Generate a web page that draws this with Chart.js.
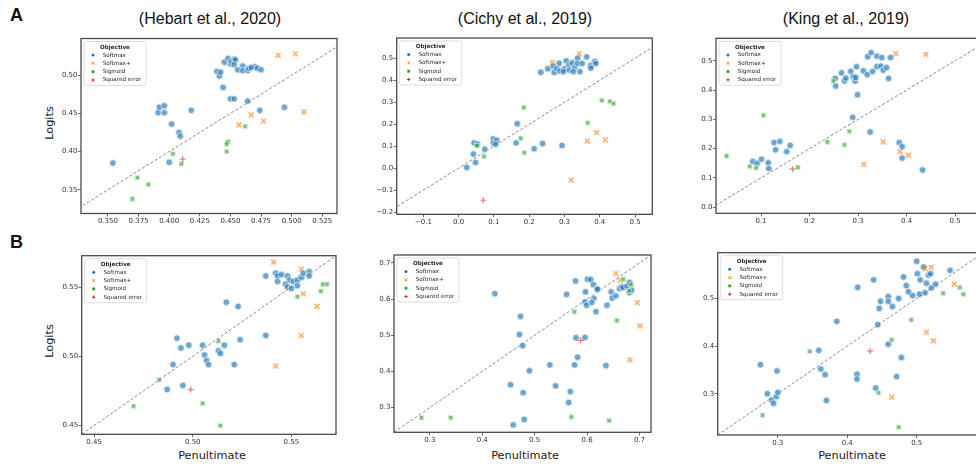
<!DOCTYPE html>
<html>
<head>
<meta charset="utf-8">
<script src="https://cdn.jsdelivr.net/npm/chart.js@4.4.0/dist/chart.umd.min.js"></script>
<style>
  body { margin: 0; width: 976px; height: 466px; overflow: hidden; background: #fff; position: relative; }
  canvas { position: absolute; }
  .txt { position: absolute; line-height: 1; white-space: nowrap; color: #111; }
  .letter { font: bold 18px "Liberation Sans", Arial, sans-serif; transform: translate(0, -50%); }
  .ptitle { font: 16px "Liberation Sans", Arial, sans-serif; transform: translate(-50%, -50%); }
  .ylab { font: 11.3px "DejaVu Sans", sans-serif; color: #222; transform: translate(-50%, -50%) rotate(-90deg); }
  .xlab { font: 11.3px "DejaVu Sans", sans-serif; color: #222; transform: translate(-50%, -50%); }
</style>
</head>
<body>
<div class="txt letter" style="left:10px;top:14.5px">A</div>
<div class="txt letter" style="left:10px;top:242px">B</div>
<div class="txt ptitle" style="left:210px;top:19px">(Hebart et al., 2020)</div>
<div class="txt ptitle" style="left:525px;top:19px">(Cichy et al., 2019)</div>
<div class="txt ptitle" style="left:846px;top:19px">(King et al., 2019)</div>
<div class="txt ylab" style="left:48.5px;top:123px">Logits</div>
<div class="txt ylab" style="left:48.5px;top:341px">Logits</div>
<div class="txt xlab" style="left:212px;top:455px">Penultimate</div>
<div class="txt xlab" style="left:525px;top:455px">Penultimate</div>
<div class="txt xlab" style="left:852px;top:455px">Penultimate</div>

<script>
// legend entries, same order as the series in each panel
const objectives = ["Softmax", "Softmax+", "Sigmoid", "Squared error"];

// ---- row A, Hebart et al. 2020 ----
const aHebartSoftmax = [
  [0.354, 0.385], [0.391, 0.451], [0.392, 0.458], [0.396, 0.460], [0.396, 0.451],
  [0.402, 0.436], [0.408, 0.425], [0.409, 0.420], [0.400, 0.386], [0.418, 0.454],
  [0.444, 0.484], [0.439, 0.505], [0.441, 0.499], [0.442, 0.504], [0.445, 0.517],
  [0.448, 0.522], [0.450, 0.515], [0.451, 0.518], [0.453, 0.521], [0.454, 0.520],
  [0.450, 0.469], [0.453, 0.469], [0.456, 0.507], [0.460, 0.512], [0.460, 0.506],
  [0.464, 0.506], [0.465, 0.509], [0.464, 0.466], [0.470, 0.511], [0.472, 0.509],
  [0.475, 0.507], [0.474, 0.454], [0.494, 0.458], [0.453, 0.514], [0.467, 0.510]
];
const aHebartSoftmaxPlus = [[0.489, 0.526], [0.503, 0.528], [0.510, 0.452], [0.467, 0.448], [0.477, 0.440], [0.457, 0.435]];
const aHebartSigmoid = [
  [0.462, 0.433], [0.448, 0.413], [0.447, 0.410], [0.447, 0.400], [0.403, 0.397],
  [0.410, 0.384], [0.374, 0.366], [0.383, 0.357], [0.370, 0.338]
];
const aHebartSquared = [[0.411, 0.390]];
const aHebartXTicks = [0.350, 0.375, 0.400, 0.425, 0.450, 0.475, 0.500, 0.525];
const aHebartYTicks = [0.35, 0.40, 0.45, 0.50];

// ---- row A, Cichy et al. 2019 ----
const aCichySoftmax = [
  [0.233, 0.436], [0.253, 0.452], [0.268, 0.464], [0.271, 0.436], [0.278, 0.453],
  [0.285, 0.477], [0.287, 0.442], [0.300, 0.452], [0.305, 0.488], [0.313, 0.470],
  [0.314, 0.446], [0.322, 0.479], [0.329, 0.458], [0.337, 0.500], [0.337, 0.476],
  [0.350, 0.476], [0.344, 0.439], [0.363, 0.506], [0.374, 0.467], [0.375, 0.455],
  [0.386, 0.485], [0.389, 0.476], [0.325, 0.439], [0.297, 0.439],
  [0.023, 0.003], [0.042, 0.064], [0.044, 0.115], [0.048, 0.026], [0.053, 0.109],
  [0.074, 0.086], [0.098, 0.133], [0.098, 0.115], [0.108, 0.127], [0.105, 0.109],
  [0.163, 0.115], [0.166, 0.202], [0.214, 0.088], [0.238, 0.112], [0.293, 0.103]
];
const aCichySoftmaxPlus = [[0.266, 0.480], [0.342, 0.520], [0.365, 0.123], [0.391, 0.162], [0.416, 0.129], [0.319, -0.055]];
const aCichySigmoid = [
  [0.052, 0.102], [0.072, 0.053], [0.176, 0.136], [0.185, 0.276], [0.186, 0.070],
  [0.366, 0.206], [0.406, 0.308], [0.429, 0.303], [0.439, 0.294]
];
const aCichySquared = [[0.070, -0.146]];
const aCichyXTicks = [-0.1, 0.0, 0.1, 0.2, 0.3, 0.4, 0.5];
const aCichyYTicks = [-0.2, -0.1, 0.0, 0.1, 0.2, 0.3, 0.4, 0.5];

// ---- row A, King et al. 2019 ----
const aKingSoftmax = [
  [0.253, 0.440], [0.254, 0.414], [0.266, 0.459], [0.272, 0.431], [0.275, 0.441],
  [0.285, 0.464], [0.290, 0.446], [0.294, 0.431], [0.295, 0.443], [0.297, 0.480],
  [0.299, 0.384], [0.311, 0.466], [0.319, 0.453], [0.320, 0.514], [0.327, 0.528],
  [0.330, 0.464], [0.339, 0.480], [0.339, 0.516], [0.347, 0.482], [0.349, 0.511],
  [0.352, 0.468], [0.359, 0.477], [0.363, 0.440], [0.367, 0.511], [0.289, 0.307],
  [0.325, 0.257], [0.083, 0.156], [0.092, 0.150], [0.101, 0.164], [0.115, 0.152],
  [0.116, 0.132], [0.127, 0.221], [0.130, 0.196], [0.139, 0.225], [0.153, 0.190],
  [0.160, 0.211], [0.385, 0.221], [0.391, 0.207], [0.391, 0.168], [0.433, 0.127]
];
const aKingSoftmaxPlus = [[0.378, 0.525], [0.440, 0.522], [0.352, 0.223], [0.312, 0.146], [0.387, 0.190], [0.404, 0.178]];
const aKingSigmoid = [
  [0.029, 0.175], [0.077, 0.139], [0.090, 0.134], [0.105, 0.314], [0.176, 0.136],
  [0.237, 0.223], [0.272, 0.213], [0.282, 0.259], [0.249, 0.431]
];
const aKingSquared = [[0.165, 0.130]];
const aKingXTicks = [0.1, 0.2, 0.3, 0.4, 0.5];
const aKingYTicks = [0.0, 0.1, 0.2, 0.3, 0.4, 0.5];

// ---- row B, Hebart et al. 2020 ----
const bHebartSoftmax = [
  [0.537, 0.558], [0.542, 0.560], [0.543, 0.558], [0.545, 0.559], [0.543, 0.554],
  [0.548, 0.558], [0.549, 0.555], [0.551, 0.554], [0.553, 0.555], [0.547, 0.552],
  [0.548, 0.550], [0.550, 0.549], [0.553, 0.551], [0.555, 0.557], [0.556, 0.560],
  [0.559, 0.561], [0.559, 0.558],
  [0.487, 0.476], [0.490, 0.494], [0.492, 0.513], [0.494, 0.506], [0.495, 0.479],
  [0.498, 0.508], [0.505, 0.508], [0.506, 0.501], [0.507, 0.497], [0.508, 0.494],
  [0.513, 0.504], [0.514, 0.502], [0.516, 0.508], [0.517, 0.539], [0.521, 0.494],
  [0.523, 0.536], [0.524, 0.512], [0.537, 0.515]
];
const bHebartSoftmaxPlus = [[0.541, 0.568], [0.555, 0.563], [0.556, 0.545], [0.563, 0.536], [0.555, 0.515], [0.542, 0.493]];
const bHebartSigmoid = [
  [0.553, 0.543], [0.565, 0.547], [0.566, 0.552], [0.568, 0.552], [0.513, 0.511],
  [0.483, 0.483], [0.470, 0.464], [0.505, 0.466], [0.514, 0.450]
];
const bHebartSquared = [[0.499, 0.476]];
const bHebartXTicks = [0.45, 0.50, 0.55];
const bHebartYTicks = [0.45, 0.50, 0.55];

// ---- row B, Cichy et al. 2019 ----
const bCichySoftmax = [
  [0.424, 0.615], [0.454, 0.363], [0.473, 0.552], [0.471, 0.502], [0.477, 0.471],
  [0.478, 0.341], [0.480, 0.267], [0.459, 0.252], [0.490, 0.402], [0.529, 0.418],
  [0.540, 0.360], [0.561, 0.613], [0.568, 0.344], [0.565, 0.314], [0.576, 0.418],
  [0.579, 0.493], [0.582, 0.439], [0.578, 0.650], [0.596, 0.494], [0.596, 0.592],
  [0.597, 0.620], [0.599, 0.583], [0.601, 0.655], [0.607, 0.654], [0.612, 0.640],
  [0.613, 0.602], [0.609, 0.591], [0.617, 0.565], [0.619, 0.629], [0.620, 0.627],
  [0.638, 0.583], [0.636, 0.416], [0.646, 0.620], [0.648, 0.603], [0.655, 0.609],
  [0.662, 0.629], [0.666, 0.634], [0.669, 0.632], [0.676, 0.636], [0.681, 0.646],
  [0.681, 0.618], [0.685, 0.625]
];
const bCichySoftmaxPlus = [[0.655, 0.671], [0.663, 0.652], [0.696, 0.590], [0.701, 0.526], [0.682, 0.432]];
const bCichySigmoid = [
  [0.669, 0.655], [0.684, 0.640], [0.680, 0.623], [0.576, 0.565], [0.657, 0.541],
  [0.284, 0.272], [0.340, 0.272], [0.570, 0.274], [0.642, 0.264]
];
const bCichySquared = [[0.588, 0.486]];
const bCichyXTicks = [0.3, 0.4, 0.5, 0.6, 0.7];
const bCichyYTicks = [0.3, 0.4, 0.5, 0.6, 0.7];

// ---- row B, King et al. 2019 ----
const bKingSoftmax = [
  [0.275, 0.361], [0.285, 0.300], [0.291, 0.287], [0.294, 0.280], [0.298, 0.294],
  [0.300, 0.303], [0.299, 0.348], [0.359, 0.391], [0.362, 0.352], [0.368, 0.340],
  [0.370, 0.286], [0.385, 0.452], [0.414, 0.341], [0.414, 0.331], [0.415, 0.523],
  [0.438, 0.539], [0.441, 0.312], [0.444, 0.445], [0.446, 0.479], [0.448, 0.494],
  [0.459, 0.504], [0.459, 0.494], [0.459, 0.404], [0.465, 0.483], [0.474, 0.500],
  [0.478, 0.376], [0.471, 0.336], [0.481, 0.545], [0.485, 0.527], [0.488, 0.514],
  [0.494, 0.506], [0.500, 0.578], [0.501, 0.552], [0.504, 0.509], [0.505, 0.539],
  [0.510, 0.566], [0.512, 0.512], [0.514, 0.532], [0.517, 0.549], [0.520, 0.552],
  [0.521, 0.522], [0.527, 0.530], [0.548, 0.559]
];
const bKingSoftmaxPlus = [[0.512, 0.562], [0.521, 0.565], [0.554, 0.530], [0.514, 0.429], [0.524, 0.411], [0.464, 0.293]];
const bKingSigmoid = [
  [0.278, 0.255], [0.346, 0.389], [0.464, 0.413], [0.492, 0.455], [0.445, 0.302],
  [0.474, 0.230], [0.538, 0.511], [0.562, 0.523], [0.567, 0.509]
];
const bKingSquared = [[0.433, 0.390]];
const bKingXTicks = [0.3, 0.4, 0.5];
const bKingYTicks = [0.3, 0.4, 0.5];

// where each axes box sits on the page (left, top, right, bottom) and its limits
const panels = [
  { box: [81, 38.5, 337, 213.5], xLim: [0.328, 0.537], yLim: [0.319, 0.548],
    xTicks: aHebartXTicks, yTicks: aHebartYTicks, xDec: 3, yDec: 2,
    series: [aHebartSoftmax, aHebartSoftmaxPlus, aHebartSigmoid, aHebartSquared] },
  { box: [396.7, 38, 652.3, 214.3], xLim: [-0.1756, 0.549], yLim: [-0.21, 0.592],
    xTicks: aCichyXTicks, yTicks: aCichyYTicks, xDec: 1, yDec: 1,
    series: [aCichySoftmax, aCichySoftmaxPlus, aCichySigmoid, aCichySquared] },
  { box: [716, 38.3, 980, 213.3], xLim: [0.0072, 0.5515], yLim: [-0.0207, 0.577],
    xTicks: aKingXTicks, yTicks: aKingYTicks, xDec: 1, yDec: 1,
    series: [aKingSoftmax, aKingSoftmaxPlus, aKingSigmoid, aKingSquared] },
  { box: [81.7, 255.7, 336, 434.3], xLim: [0.4437, 0.5726], yLim: [0.4437, 0.5726],
    xTicks: bHebartXTicks, yTicks: bHebartYTicks, xDec: 2, yDec: 2,
    series: [bHebartSoftmax, bHebartSoftmaxPlus, bHebartSigmoid, bHebartSquared] },
  { box: [394, 255, 651, 432.3], xLim: [0.2316, 0.722], yLim: [0.2316, 0.722],
    xTicks: bCichyXTicks, yTicks: bCichyYTicks, xDec: 1, yDec: 1,
    series: [bCichySoftmax, bCichySoftmaxPlus, bCichySigmoid, bCichySquared] },
  { box: [717.7, 252.7, 983.4, 435], xLim: [0.2135, 0.596], yLim: [0.2135, 0.596],
    xTicks: bKingXTicks, yTicks: bKingYTicks, xDec: 1, yDec: 1,
    series: [bKingSoftmax, bKingSoftmaxPlus, bKingSigmoid, bKingSquared] }
];

// marker look for each objective
const styles = [
  { pointStyle: "circle", pointRadius: 3.2, backgroundColor: "rgba(31,119,180,0.66)", borderColor: "rgba(215,230,243,0.9)", borderWidth: 1 },
  { pointStyle: "crossRot", pointRadius: 3.4, backgroundColor: "rgba(255,127,14,0.6)", borderColor: "rgba(255,127,14,0.6)", borderWidth: 1.3 },
  { pointStyle: "rect", pointRadius: 3.1, backgroundColor: "rgba(44,160,44,0.62)", borderColor: "rgba(214,236,214,0.9)", borderWidth: 0.9 },
  { pointStyle: "cross", pointRadius: 3, backgroundColor: "rgba(214,39,40,0.62)", borderColor: "rgba(214,39,40,0.62)", borderWidth: 1.2 }
];
const legendColors = ["#1f77b4", "#ff7f0e", "#2ca02c", "#d62728"];

const fmt = (v, d) => v.toFixed(d).replace("-", "\u2212");
const toXY = arr => arr.map(([x, y]) => ({ x, y }));

// dark box round the axes, like matplotlib spines
const spines = {
  id: "spines",
  afterDatasetsDraw(chart) {
    const { ctx, chartArea: a } = chart;
    ctx.save();
    ctx.strokeStyle = "#4a4a4a";
    ctx.lineWidth = 1.3;
    ctx.strokeRect(a.left, a.top, a.right - a.left, a.bottom - a.top);
    ctx.restore();
  }
};

// small framed "Objective" legend in the upper left corner
const objectiveLegend = {
  id: "objectiveLegend",
  afterDraw(chart) {
    const { ctx, chartArea: a } = chart;
    const x0 = a.left + 3, y0 = a.top + 3, w = 62, h = 44;
    ctx.save();
    ctx.beginPath();
    ctx.roundRect(x0, y0, w, h, 2);
    ctx.fillStyle = "rgba(255,255,255,0.85)";
    ctx.fill();
    ctx.strokeStyle = "#d4d4d4";
    ctx.lineWidth = 0.8;
    ctx.stroke();

    ctx.fillStyle = "#262626";
    ctx.textBaseline = "middle";
    ctx.textAlign = "center";
    ctx.font = 'bold 5.6px "DejaVu Sans"';
    ctx.fillText("Objective", x0 + w / 2, y0 + 5.8);

    ctx.textAlign = "left";
    ctx.font = '5.6px "DejaVu Sans"';
    objectives.forEach((name, i) => {
      const y = y0 + 13.6 + i * 8.3, mx = x0 + 9;
      const c = legendColors[i];
      ctx.fillStyle = c;
      ctx.strokeStyle = c;
      ctx.lineWidth = 1;
      ctx.beginPath();
      if (i === 0) {
        ctx.arc(mx, y, 1.5, 0, Math.PI * 2);
        ctx.fill();
      } else if (i === 1) {
        ctx.moveTo(mx - 1.4, y - 1.4); ctx.lineTo(mx + 1.4, y + 1.4);
        ctx.moveTo(mx + 1.4, y - 1.4); ctx.lineTo(mx - 1.4, y + 1.4);
        ctx.stroke();
      } else if (i === 2) {
        ctx.fillRect(mx - 1.4, y - 1.4, 2.8, 2.8);
      } else {
        ctx.moveTo(mx - 1.7, y); ctx.lineTo(mx + 1.7, y);
        ctx.moveTo(mx, y - 1.7); ctx.lineTo(mx, y + 1.7);
        ctx.stroke();
      }
      ctx.fillStyle = "#262626";
      ctx.fillText(name, x0 + 18.7, y);
    });
    ctx.restore();
  }
};

function makePanel(p) {
  const [l, t, r, b] = p.box;
  const cl = Math.floor(l) - 40, ct = Math.floor(t) - 6;
  const cw = Math.ceil(r) + 8 - cl, ch = Math.ceil(b) + 24 - ct;
  const padLeft = l - cl, padTop = t - ct, padRight = cl + cw - r, padBottom = ct + ch - b;

  const canvas = document.createElement("canvas");
  canvas.width = cw;
  canvas.height = ch;
  canvas.style.left = cl + "px";
  canvas.style.top = ct + "px";
  canvas.style.width = cw + "px";
  canvas.style.height = ch + "px";
  document.body.appendChild(canvas);

  // y = x reference line across the whole box
  const lo = Math.min(p.xLim[0], p.yLim[0]), hi = Math.max(p.xLim[1], p.yLim[1]);
  const datasets = [{
    data: [{ x: lo, y: lo }, { x: hi, y: hi }],
    showLine: true, pointRadius: 0, borderColor: "#8a8a8a", borderWidth: 1,
    borderDash: [3, 2], order: 10
  }];
  // soft square glow under the Softmax+ crosses
  datasets.push({
    data: toXY(p.series[1]), pointStyle: "rect", pointRadius: 4,
    backgroundColor: "rgba(255,150,60,0.14)", borderWidth: 0, order: 6
  });
  p.series.forEach((s, i) => {
    datasets.push({ label: objectives[i], data: toXY(s), order: 4 - i, ...styles[i] });
  });

  const tickFont = { family: "DejaVu Sans", size: 7 };
  const axis = (lim, ticks, dec, fit) => ({
    type: "linear", min: lim[0], max: lim[1],
    afterBuildTicks: s => { s.ticks = ticks.map(v => ({ value: v })); },
    afterFit: fit,
    ticks: { callback: v => fmt(v, dec), font: tickFont, color: "#333", padding: 0.5, autoSkip: false, maxRotation: 0 },
    grid: { drawOnChartArea: false, drawTicks: true, tickLength: 3, tickColor: "#444", tickWidth: 0.8 },
    border: { display: false }
  });

  new Chart(canvas, {
    type: "scatter",
    data: { datasets },
    options: {
      responsive: false,
      animation: false,
      devicePixelRatio: 1,
      layout: { autoPadding: false, padding: { left: 0, top: padTop, right: padRight, bottom: 0 } },
      scales: {
        x: axis(p.xLim, p.xTicks, p.xDec, s => { s.height = padBottom; }),
        y: axis(p.yLim, p.yTicks, p.yDec, s => { s.width = padLeft; })
      },
      plugins: { legend: { display: false }, tooltip: { enabled: false } }
    },
    plugins: [spines, objectiveLegend]
  });
}

panels.forEach(makePanel);
</script>
</body>
</html>
